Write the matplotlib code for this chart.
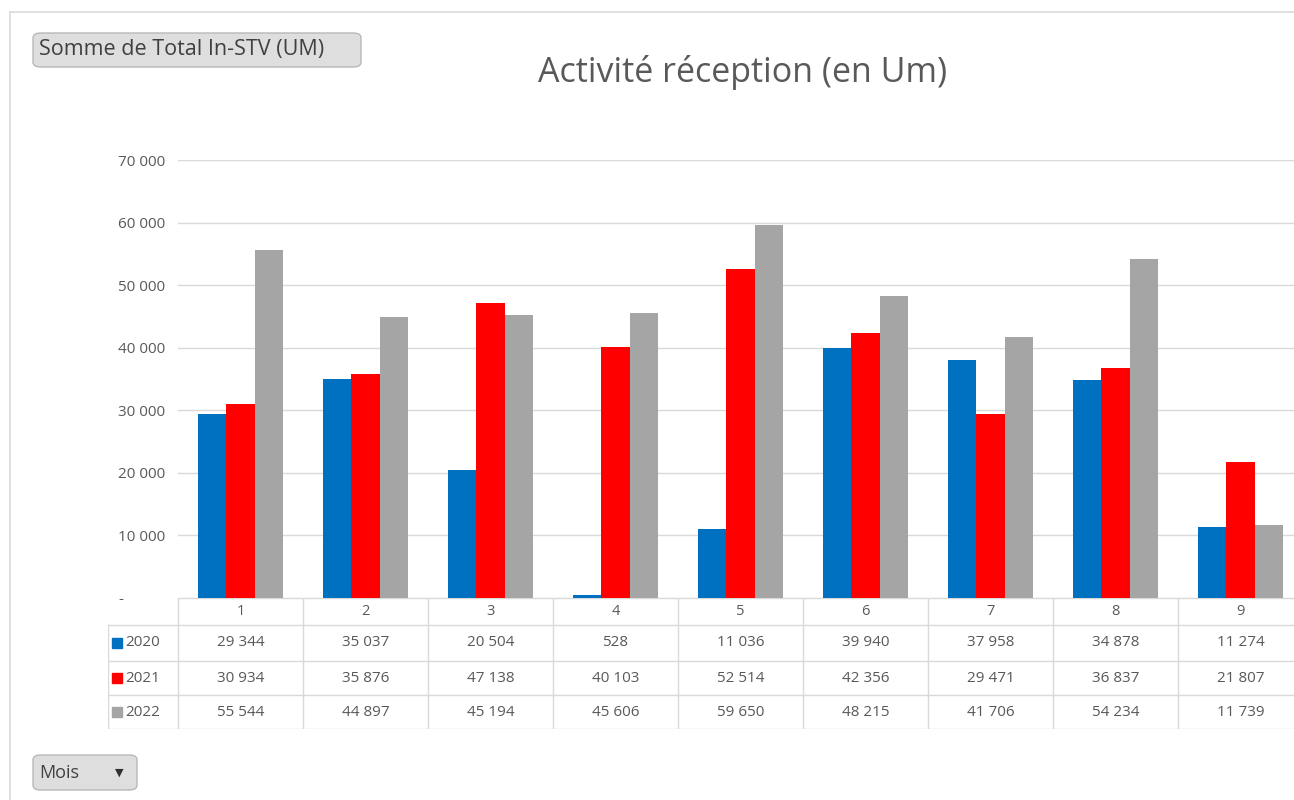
import numpy as np
import matplotlib.pyplot as plt
from matplotlib.patches import FancyBboxPatch
from matplotlib.lines import Line2D

plt.rcParams['font.family'] = ['Open Sans', 'DejaVu Sans']

mois = ['1', '2', '3', '4', '5', '6', '7', '8', '9']
annees = ['2020', '2021', '2022']
v2020 = [29344, 35037, 20504, 528, 11036, 39940, 37958, 34878, 11274]
v2021 = [30934, 35876, 47138, 40103, 52514, 42356, 29471, 36837, 21807]
v2022 = [55544, 44897, 45194, 45606, 59650, 48215, 41706, 54234, 11739]
series = [v2020, v2021, v2022]
couleurs = ['#0070C0', '#FF0000', '#A5A5A5']
yticks = [0, 10000, 20000, 30000, 40000, 50000, 60000, 70000]

W, H = 1294, 800
fig = plt.figure(figsize=(W / 100, H / 100), dpi=100)

def px(x0, y0, x1, y1):
    # pixel box (top-left origin) -> figure rect
    return [x0 / W, 1 - y1 / H, (x1 - x0) / W, (y1 - y0) / H]

def fmt(v):
    return f'{v:,}'.replace(',', ' ')

colw = 125.0
ax_left, ax_top, ax_bot = 178, 160, 598
ax = fig.add_axes(px(ax_left, ax_top, W, ax_bot))
x = np.arange(1, len(mois) + 1)
bw = 0.225
for i, (vals, c) in enumerate(zip(series, couleurs)):
    ax.bar(x + (i - 1) * bw, vals, width=bw, color=c, zorder=3)

ax.set_xlim(0.5, 0.5 + (W - ax_left) / colw)
ax.set_ylim(0, 70000)
ax.set_yticks(yticks)
ax.set_yticklabels(['-' if v == 0 else fmt(v) for v in yticks])
ax.yaxis.grid(True, color='#D9D9D9', linewidth=1, zorder=0)
ax.set_xticks([])
for s in ax.spines.values():
    s.set_visible(False)
ax.tick_params(axis='y', length=0, pad=0, labelsize=11, labelcolor='#595959')
for lab in ax.get_yticklabels():
    lab.set_horizontalalignment('left')
    lab.set_x(-60 / (W - ax_left))

# data table under the chart
tab_left, tab_top, tab_bot = 108, 598, 729
tax = fig.add_axes(px(tab_left, tab_top, W, tab_bot))
x0t, x1t = 0.5 - (ax_left - tab_left) / colw, 0.5 + (W - ax_left) / colw
tax.set_xlim(x0t, x1t)
row_edges = [0, 27, 63, 97, 131]  # px from table top
tax.set_ylim(row_edges[-1], 0)
tax.axis('off')
gc = '#D9D9D9'
tax.plot([0.5, x1t], [0, 0], color=gc, lw=1)
for r in row_edges[1:]:
    tax.plot([x0t, x1t], [r, r], color=gc, lw=1)
tax.plot([x0t] * 2, [row_edges[1], row_edges[-1]], color=gc, lw=1)
for k in range(len(mois)):
    tax.plot([k + 0.5] * 2, [0, row_edges[-1]], color=gc, lw=1)

tc = '#595959'
for k, m in enumerate(mois):
    tax.text(k + 1, (row_edges[0] + row_edges[1]) / 2, m, ha='center', va='center',
             fontsize=10.5, color=tc)
for r, (an, vals, c) in enumerate(zip(annees, series, couleurs)):
    yc = (row_edges[r + 1] + row_edges[r + 2]) / 2
    tax.plot(x0t + 0.07, yc, marker='s', ms=7, color=c, clip_on=False)
    tax.text(x0t + 0.14, yc, an, ha='left', va='center', fontsize=11, color=tc)
    for k, v in enumerate(vals):
        tax.text(k + 1, yc, fmt(v), ha='center', va='center', fontsize=11, color=tc)

# title
fig.text(743 / W, 1 - 72 / H, 'Activité réception (en Um)', ha='center', va='center',
         fontsize=24.5, color='#595959')

# frame lines
fig.add_artist(Line2D([10 / W, 1], [1 - 12 / H] * 2, color='#D9D9D9', lw=1.2))
fig.add_artist(Line2D([10 / W] * 2, [0, 1 - 12 / H], color='#D9D9D9', lw=1.2))

# pivot field buttons
def bouton(x0, y0, x1, y1, txt, fs, arrow=False):
    b = FancyBboxPatch((x0 / W, 1 - y1 / H), (x1 - x0) / W, (y1 - y0) / H,
                       boxstyle='round,pad=0,rounding_size=0.006',
                       transform=fig.transFigure, facecolor='#DEDEDE',
                       edgecolor='#B8B8B8', lw=1)
    fig.add_artist(b)
    fig.text((x0 + 6) / W, 1 - (y0 + y1) / 2 / H, txt, ha='left', va='center',
             fontsize=fs, color='#404040')
    if arrow:
        fig.text((x1 - 18) / W, 1 - (y0 + y1) / 2 / H, '▼', ha='center', va='center',
                 fontsize=8, color='#303030', family='DejaVu Sans')

bouton(33, 33, 361, 67, 'Somme de Total In-STV (UM)', 15.5)
bouton(33, 755, 137, 790, 'Mois', 13, arrow=True)

fig.savefig('out.png', dpi=100)
